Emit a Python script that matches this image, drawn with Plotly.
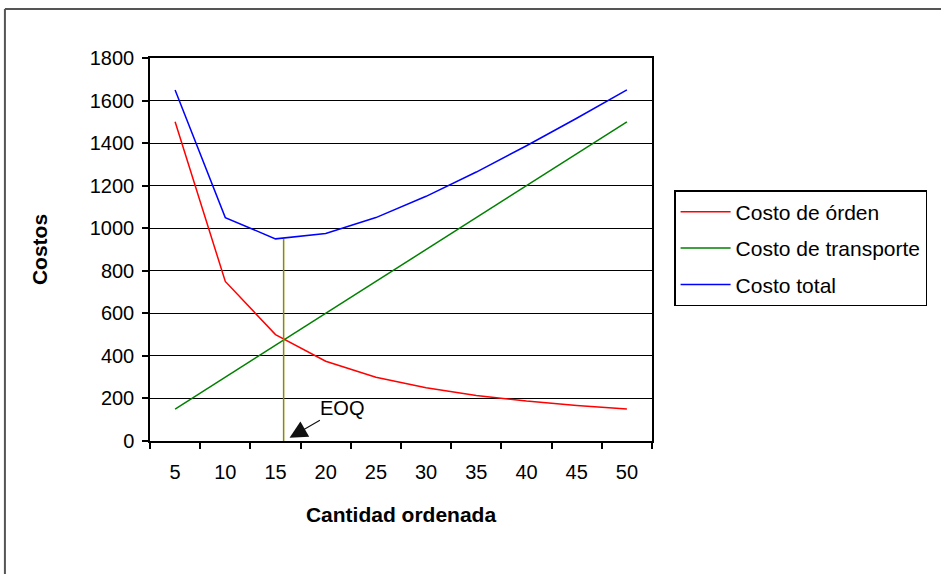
import plotly.graph_objects as go

# Order quantity and cost series (EOQ model)
cantidad = [5, 10, 15, 20, 25, 30, 35, 40, 45, 50]
costo_orden = [1500, 750, 500, 375, 300, 250, 214, 187.5, 167, 150]
costo_transporte = [150, 300, 450, 600, 750, 900, 1050, 1200, 1350, 1500]
costo_total = [1650, 1050, 950, 975, 1050, 1150, 1264, 1387.5, 1517, 1650]

# Economic order quantity and its total cost
eoq_x = [15.81, 15.81]
eoq_y = [0, 949]

y_ticks = [0, 200, 400, 600, 800, 1000, 1200, 1400, 1600, 1800]

FONT = "Liberation Sans, Arial, sans-serif"

fig = go.Figure()
series = [
    ("Costo de órden", costo_orden, "#FF0000"),
    ("Costo de transporte", costo_transporte, "#008000"),
    ("Costo total", costo_total, "#0000FF"),
]
for name, vals, color in series:
    fig.add_trace(go.Scatter(
        x=cantidad, y=vals, mode="lines", name=name,
        line=dict(color=color, width=1.5), legendgroup=name,
    ))

fig.add_trace(go.Scatter(
    x=eoq_x, y=eoq_y, mode="lines", showlegend=False,
    line=dict(color="#8A8A00", width=1.5),
))

# category boundaries for the tick marks
half = (cantidad[1] - cantidad[0]) / 2
bounds = [c - half for c in cantidad] + [cantidad[-1] + half]

fig.update_xaxes(
    range=[bounds[0], bounds[-1]],
    tickvals=cantidad, ticktext=[str(c) for c in cantidad],
    ticks="", ticklabelstandoff=12,
    showgrid=False, zeroline=False,
    showline=True, linecolor="black", linewidth=1.5, mirror=True,
    tickfont=dict(family=FONT, size=20, color="black"),
    minor=dict(tickvals=bounds, ticks="outside", ticklen=6,
               tickcolor="black", tickwidth=1.5, showgrid=False),
    title=dict(text="<b>Cantidad ordenada</b>", standoff=26,
               font=dict(family=FONT, size=21, color="black")),
)
fig.update_yaxes(
    range=[0, 1800], tickvals=y_ticks,
    ticks="outside", ticklen=6, tickcolor="black", tickwidth=1.5,
    ticklabelstandoff=4,
    showgrid=True, gridcolor="black", gridwidth=1.2, zeroline=False,
    showline=True, linecolor="black", linewidth=1.5, mirror=True,
    tickfont=dict(family=FONT, size=20, color="black"),
    title=dict(text="<b>Costos</b>", standoff=36,
               font=dict(family=FONT, size=21, color="black")),
)

fig.add_annotation(
    x=16.4, y=15, xref="x", yref="y",
    ax=52, ay=-30, text="EOQ", showarrow=True,
    arrowhead=2, arrowsize=3.2, arrowwidth=1.1, arrowcolor="#111111",
    font=dict(family=FONT, size=20, color="black"),
)

# outer chart-area frame (top and left edges)
frame = dict(color="#555555", width=2)
fig.add_shape(type="line", xref="paper", yref="paper",
              x0=-0.289, y0=1.128, x1=1.7, y1=1.128, line=frame)
fig.add_shape(type="line", xref="paper", yref="paper",
              x0=-0.289, y0=1.128, x1=-0.289, y1=-0.5, line=frame)

fig.update_layout(
    width=941, height=574,
    margin=dict(l=150, r=289, t=58, b=133),
    plot_bgcolor="white", paper_bgcolor="white",
    font=dict(family=FONT, color="black"),
    legend=dict(
        x=1.044, y=0.655, xanchor="left", yanchor="top",
        bgcolor="white", bordercolor="black", borderwidth=1.5,
        font=dict(family=FONT, size=21, color="black"),
        tracegroupgap=6, itemwidth=50,
    ),
)

fig.write_html("out.html")
